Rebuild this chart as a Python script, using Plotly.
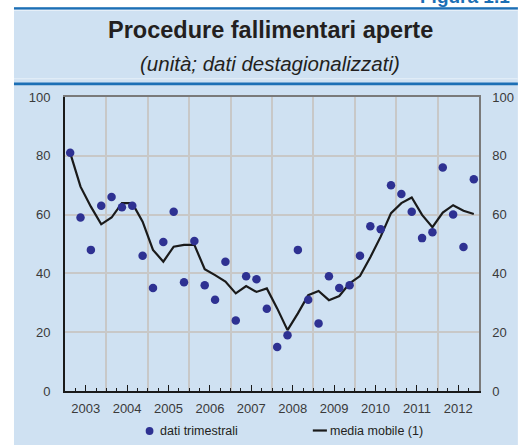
import plotly.graph_objects as go

# ---------------- data ----------------
anni = list(range(2003, 2013))
etichette_anni = [str(a) for a in anni]
trimestri = [1, 2, 3, 4]

dati_trimestrali = [
    81, 59, 48, 63,     # 2003
    66, 62.5, 63, 46,   # 2004
    35, 50.7, 61, 37,   # 2005
    51, 36, 31, 44,     # 2006
    24, 39, 38, 28,     # 2007
    15, 19, 48, 31,     # 2008
    23, 39, 35, 36,     # 2009
    46, 56, 55, 70,     # 2010
    67, 61, 52, 54,     # 2011
    76, 60, 49, 72,     # 2012
]

media_mobile = [
    81, 69.5, 62.7, 56.7,
    59.0, 63.9, 63.9, 57.6,
    48.0, 44.0, 49.1, 49.7,
    49.7, 41.4, 39.4, 37.2,
    33.2, 35.7, 33.7, 34.9,
    28.1, 20.7, 26.4, 32.6,
    34.0, 30.9, 32.3, 36.6,
    39.1, 45.5, 52.5, 60.5,
    63.9, 65.8, 59.9, 55.7,
    60.7, 63.2, 61.3, 60.2,
]

y_ticks = [0, 20, 40, 60, 80, 100]

# quarter positions on a continuous time axis (mid-quarter)
x_q = [a + (q - 0.5) / 4 for a in anni for q in trimestri]

# ---------------- layout constants ----------------
W, H = 526, 445
L, R, T, B = 65, 35, 97, 54
PW, PH = W - L - R, H - T - B

def px(x):
    return (x - L) / PW

def py(y):
    return (H - B - y) / PH

LIGHT = "#cfe1f2"
DARK_BLUE = "#1c6fb5"
DOT = "#2e3192"
TXT = "#231f20"
TICK_TXT = "#3a3a3a"
GRID = "#c8c8c8"
FONT = "Liberation Sans, Arial, sans-serif"

fig = go.Figure()

fig.add_trace(go.Scatter(
    x=x_q, y=media_mobile, mode="lines",
    line=dict(color="#1a1a1a", width=2.2),
    name="media mobile (1)", showlegend=False,
    xaxis="x", yaxis="y",
))
fig.add_trace(go.Scatter(
    x=x_q, y=dati_trimestrali, mode="markers",
    marker=dict(color=DOT, size=8.5, line=dict(width=0)),
    name="dati trimestrali", showlegend=False,
    xaxis="x", yaxis="y",
))

shapes = [
    # light blue panel
    dict(type="rect", xref="paper", yref="paper", x0=px(12.5), x1=px(W + 5),
         y0=py(H + 5), y1=py(7), fillcolor=LIGHT, line=dict(width=0), layer="below"),
    # top blue rule
    dict(type="rect", xref="paper", yref="paper", x0=px(12.5), x1=px(W + 5),
         y0=py(9.6), y1=py(7.2), fillcolor=DARK_BLUE, line=dict(width=0), layer="below"),
    # thin light line under top rule
    dict(type="rect", xref="paper", yref="paper", x0=px(12.5), x1=px(W + 5),
         y0=py(11), y1=py(10), fillcolor="#e6eff8", line=dict(width=0), layer="below"),
    # thin light line above lower rule
    dict(type="rect", xref="paper", yref="paper", x0=px(12.5), x1=px(W + 5),
         y0=py(79.2), y1=py(78.2), fillcolor="#e6eff8", line=dict(width=0), layer="below"),
    # lower blue rule
    dict(type="rect", xref="paper", yref="paper", x0=px(12.5), x1=px(W + 5),
         y0=py(85.2), y1=py(82.6), fillcolor=DARK_BLUE, line=dict(width=0), layer="below"),
    # legend symbols
    dict(type="circle", xref="paper", yref="paper", x0=px(148), x1=px(156),
         y0=py(435), y1=py(427), fillcolor=DOT, line=dict(width=0)),
    dict(type="line", xref="paper", yref="paper", x0=px(320), x1=px(334.5),
         y0=py(430.5), y1=py(430.5), line=dict(color="#1a1a1a", width=2.2)),
]

annotations = [
    dict(text="<b>Procedure fallimentari aperte</b>", xref="paper", yref="paper",
         x=px(276.5), y=py(29.5), xanchor="center", yanchor="middle", showarrow=False,
         font=dict(family=FONT, size=23.5, color=TXT)),
    dict(text="<i>(unità; dati destagionalizzati)</i>", xref="paper", yref="paper",
         x=px(276), y=py(63), xanchor="center", yanchor="middle", showarrow=False,
         font=dict(family=FONT, size=20.5, color=TXT)),
    dict(text="<b>Figura 1.1</b>", xref="paper", yref="paper",
         x=px(428), y=py(9), xanchor="left", yanchor="bottom", showarrow=False,
         font=dict(family=FONT, size=19, color=DARK_BLUE)),
    dict(text="dati trimestrali", xref="paper", yref="paper",
         x=px(161), y=py(431), xanchor="left", yanchor="middle", showarrow=False,
         font=dict(family=FONT, size=12.5, color=TXT)),
    dict(text="media mobile (1)", xref="paper", yref="paper",
         x=px(335.5), y=py(431), xanchor="left", yanchor="middle", showarrow=False,
         font=dict(family=FONT, size=12.5, color=TXT)),
]

fig.update_layout(
    width=W, height=H,
    margin=dict(l=L, r=R, t=T, b=B, pad=0),
    paper_bgcolor="white",
    plot_bgcolor="white",
    showlegend=False,
    font=dict(family=FONT, size=13, color=TICK_TXT),
    xaxis=dict(
        range=[2003, 2013], tickmode="array",
        tickvals=[a + 0.5 for a in anni], ticktext=etichette_anni,
        ticks="inside", ticklen=6, tickwidth=1.3, tickcolor="#1a1a1a",
        minor=dict(tick0=2003, dtick=0.25, ticks="inside", ticklen=3,
                   tickwidth=1.2, tickcolor="#1a1a1a", showgrid=False),
        showgrid=False, zeroline=False,
        showline=True, linecolor="#1a1a1a", linewidth=2,
        ticklabelstandoff=4,
        tickfont=dict(family=FONT, size=13, color=TICK_TXT),
        fixedrange=True,
    ),
    xaxis2=dict(
        range=[2003, 2013], overlaying="x", side="top",
        tick0=2003, dtick=1, showticklabels=False, ticks="",
        showgrid=True, gridcolor=GRID, gridwidth=1.5,
        showline=True, linecolor="#7a7a7a", linewidth=1.5, zeroline=False,
        fixedrange=True,
    ),
    yaxis=dict(
        range=[0, 100], tickmode="array", tickvals=y_ticks,
        showgrid=True, gridcolor=GRID, gridwidth=1.5, zeroline=False,
        showline=True, linecolor="#1a1a1a", linewidth=2,
        ticks="", ticklabelstandoff=10,
        tickfont=dict(family=FONT, size=13, color=TICK_TXT),
        fixedrange=True,
    ),
    yaxis2=dict(
        range=[0, 100], overlaying="y", side="right", anchor="x",
        tickmode="array", tickvals=y_ticks, showgrid=False, zeroline=False,
        showline=True, linecolor="#7a7a7a", linewidth=1.5,
        ticks="", ticklabelstandoff=9,
        tickfont=dict(family=FONT, size=13, color=TICK_TXT),
        fixedrange=True,
    ),
    shapes=shapes,
    annotations=annotations,
)

# invisible trace to activate the secondary axes
fig.add_trace(go.Scatter(x=[2003], y=[0], xaxis="x2", yaxis="y2", mode="markers",
                         marker=dict(opacity=0), showlegend=False, hoverinfo="skip"))

fig.write_html("out.html", config={"displayModeBar": False},
               post_script="document.body.style.margin='0';")
